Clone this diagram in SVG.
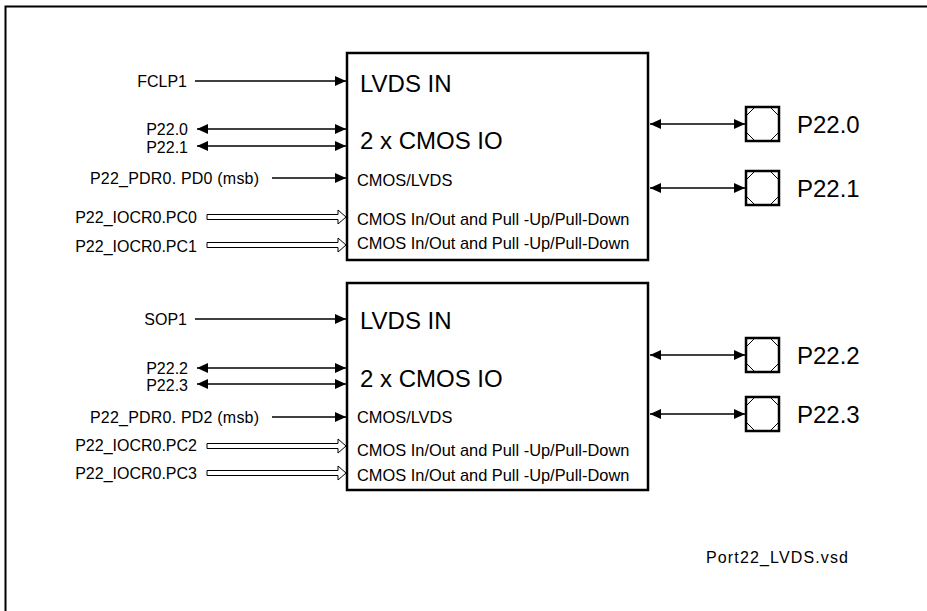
<svg xmlns="http://www.w3.org/2000/svg" width="927" height="611" viewBox="0 0 927 611">
<defs>
<style>
text{font-family:"Liberation Sans",Arial,sans-serif;fill:#000}
.lbl{font-size:16px}
.big{font-size:24px}
.mid{font-size:16.4px}
.ln{stroke:#000;stroke-width:1.3;fill:none}
.box{fill:#fff;stroke:#000;stroke-width:2.5}
.hol{fill:#fff;stroke:#000;stroke-width:1}
.pad{fill:#fff;stroke:#000;stroke-width:2.5}
.padi{fill:none;stroke:#000;stroke-width:1}
</style>
<marker id="ah" viewBox="0 0 11 10" refX="11" refY="5" markerWidth="11" markerHeight="10" markerUnits="userSpaceOnUse" orient="auto-start-reverse">
<path d="M0,0 L11,5 L0,10 Z" fill="#000"/>
</marker>
</defs>
<path d="M5.5,611 V6.5 H927" fill="none" stroke="#000" stroke-width="2"/>

<g id="block1">
<rect class="box" x="347" y="53" width="301" height="207"/>
<text class="big" x="360" y="92">LVDS IN</text>
<text class="big" x="360" y="149">2 x CMOS IO</text>
<text class="mid" x="357" y="186">CMOS/LVDS</text>
<text class="mid" x="357" y="225">CMOS In/Out and Pull -Up/Pull-Down</text>
<text class="mid" x="357" y="249">CMOS In/Out and Pull -Up/Pull-Down</text>
</g>
<g id="block2">
<rect class="box" x="347" y="283" width="301" height="207"/>
<text class="big" x="360" y="329">LVDS IN</text>
<text class="big" x="360" y="387">2 x CMOS IO</text>
<text class="mid" x="357" y="423">CMOS/LVDS</text>
<text class="mid" x="357" y="456">CMOS In/Out and Pull -Up/Pull-Down</text>
<text class="mid" x="357" y="481">CMOS In/Out and Pull -Up/Pull-Down</text>
</g>

<g id="labels-left" text-anchor="end">
<text class="lbl" x="187" y="87">FCLP1</text>
<text class="lbl" x="188" y="135">P22.0</text>
<text class="lbl" x="188" y="153">P22.1</text>
<text class="lbl" x="259" y="184" textLength="169">P22_PDR0. PD0 (msb)</text>
<text class="lbl" x="197" y="223">P22_IOCR0.PC0</text>
<text class="lbl" x="197" y="252">P22_IOCR0.PC1</text>
<text class="lbl" x="187" y="325">SOP1</text>
<text class="lbl" x="188" y="374">P22.2</text>
<text class="lbl" x="188" y="391">P22.3</text>
<text class="lbl" x="259" y="423" textLength="169">P22_PDR0. PD2 (msb)</text>
<text class="lbl" x="197" y="451">P22_IOCR0.PC2</text>
<text class="lbl" x="197" y="479">P22_IOCR0.PC3</text>
</g>

<g id="pad-P22.0">
<rect class="pad" x="746" y="107" width="33" height="34"/>
<path class="padi" d="M754,108 L747,115 M771,108 L778,115 M747,133 L754,140 M778,133 L771,140"/>
<text class="big" x="797" y="133">P22.0</text>
</g>
<g id="pad-P22.1">
<rect class="pad" x="746" y="171" width="33" height="34"/>
<path class="padi" d="M754,172 L747,179 M771,172 L778,179 M747,197 L754,204 M778,197 L771,204"/>
<text class="big" x="797" y="197">P22.1</text>
</g>
<g id="pad-P22.2">
<rect class="pad" x="746" y="338" width="33" height="34"/>
<path class="padi" d="M754,339 L747,346 M771,339 L778,346 M747,364 L754,371 M778,364 L771,371"/>
<text class="big" x="797" y="364">P22.2</text>
</g>
<g id="pad-P22.3">
<rect class="pad" x="746" y="397" width="33" height="34"/>
<path class="padi" d="M754,398 L747,405 M771,398 L778,405 M747,423 L754,430 M778,423 L771,430"/>
<text class="big" x="797" y="423">P22.3</text>
</g>

<g id="connectors">
<line class="ln" x1="195" y1="81" x2="346" y2="81" marker-end="url(#ah)"/>
<line class="ln" x1="197" y1="129" x2="346" y2="129" marker-start="url(#ah)" marker-end="url(#ah)"/>
<line class="ln" x1="197" y1="146" x2="346" y2="146" marker-start="url(#ah)" marker-end="url(#ah)"/>
<line class="ln" x1="272" y1="178" x2="346" y2="178" marker-end="url(#ah)"/>
<path class="hol" d="M207,214.5 H338 V210 L346,217 L338,224 V219.5 H207 Z"/>
<path class="hol" d="M207,242.5 H338 V238 L346,245 L338,252 V247.5 H207 Z"/>

<line class="ln" x1="195" y1="319" x2="346" y2="319" marker-end="url(#ah)"/>
<line class="ln" x1="197" y1="368" x2="346" y2="368" marker-start="url(#ah)" marker-end="url(#ah)"/>
<line class="ln" x1="197" y1="384" x2="346" y2="384" marker-start="url(#ah)" marker-end="url(#ah)"/>
<line class="ln" x1="272" y1="417" x2="346" y2="417" marker-end="url(#ah)"/>
<path class="hol" d="M207,443.5 H338 V439 L346,446 L338,453 V448.5 H207 Z"/>
<path class="hol" d="M207,470.5 H338 V466 L346,473 L338,480 V475.5 H207 Z"/>

<line class="ln" x1="650" y1="124" x2="745" y2="124" marker-start="url(#ah)" marker-end="url(#ah)"/>
<line class="ln" x1="650" y1="188" x2="745" y2="188" marker-start="url(#ah)" marker-end="url(#ah)"/>
<line class="ln" x1="650" y1="355" x2="745" y2="355" marker-start="url(#ah)" marker-end="url(#ah)"/>
<line class="ln" x1="650" y1="414" x2="745" y2="414" marker-start="url(#ah)" marker-end="url(#ah)"/>
</g>

<text class="lbl" x="706" y="563" textLength="142">Port22_LVDS.vsd</text>
</svg>
